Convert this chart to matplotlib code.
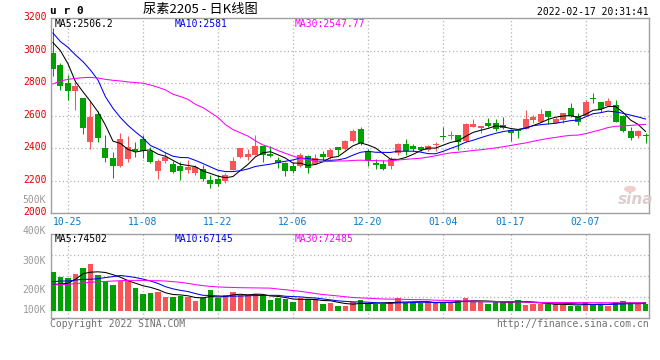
import numpy as np
import pandas as pd
import matplotlib
matplotlib.use("Agg")
import matplotlib.pyplot as plt
from matplotlib.transforms import ScaledTranslation

# ---------------- data ----------------
tick_labels = ['10-25', '11-08', '11-22', '12-06', '12-20', '01-04', '01-17', '02-07']
tick_index = [2, 12, 22, 32, 42, 52, 61, 71]

opens = [2984, 2912, 2802, 2754, 2707, 2441, 2611, 2402, 2340, 2293,
         2334, 2398, 2457, 2383, 2262, 2320, 2305, 2293, 2264, 2250,
         2273, 2205, 2211, 2199, 2266, 2346, 2346, 2361, 2414, 2363,
         2328, 2308, 2293, 2291, 2351, 2303, 2365, 2348, 2408, 2396,
         2445, 2519, 2381, 2312, 2303, 2291, 2369, 2426, 2414, 2410,
         2389, 2420, 2478, 2474, 2482, 2447, 2531, 2525, 2556, 2553,
         2543, 2512, 2512, 2517, 2574, 2564, 2629, 2558, 2574, 2648,
         2601, 2597, 2707, 2685, 2662, 2666, 2597, 2506, 2476, 2480]
highs = [3140, 2922, 2851, 2810, 2712, 2691, 2629, 2480, 2377, 2492,
         2474, 2439, 2482, 2408, 2334, 2377, 2324, 2318, 2328, 2297,
         2297, 2236, 2238, 2246, 2346, 2402, 2396, 2482, 2416, 2414,
         2349, 2318, 2318, 2369, 2359, 2365, 2383, 2400, 2408, 2451,
         2521, 2531, 2394, 2332, 2328, 2349, 2431, 2457, 2426, 2414,
         2422, 2439, 2531, 2508, 2482, 2558, 2580, 2537, 2586, 2580,
         2592, 2517, 2517, 2635, 2603, 2642, 2629, 2595, 2617, 2677,
         2615, 2697, 2738, 2685, 2707, 2695, 2605, 2529, 2512, 2492]
lows = [2847, 2758, 2697, 2636, 2490, 2396, 2439, 2314, 2219, 2283,
        2318, 2349, 2342, 2312, 2213, 2312, 2250, 2205, 2250, 2236,
        2199, 2158, 2168, 2184, 2266, 2340, 2328, 2361, 2318, 2349,
        2277, 2232, 2250, 2287, 2250, 2301, 2322, 2332, 2359, 2389,
        2441, 2418, 2291, 2275, 2266, 2275, 2359, 2359, 2383, 2381,
        2383, 2383, 2451, 2455, 2389, 2441, 2529, 2492, 2529, 2506,
        2519, 2447, 2465, 2517, 2553, 2564, 2547, 2553, 2558, 2590,
        2543, 2597, 2677, 2625, 2662, 2564, 2502, 2451, 2461, 2435]
closes = [2888, 2785, 2754, 2783, 2527, 2592, 2465, 2342, 2293, 2457,
          2408, 2385, 2383, 2318, 2324, 2346, 2256, 2262, 2285, 2285,
          2213, 2180, 2180, 2236, 2322, 2402, 2365, 2414, 2359, 2353,
          2308, 2262, 2262, 2357, 2281, 2340, 2346, 2389, 2389, 2445,
          2508, 2435, 2324, 2297, 2275, 2334, 2426, 2383, 2394, 2389,
          2414, 2424, 2472, 2480, 2437, 2549, 2549, 2537, 2537, 2517,
          2525, 2492, 2508, 2580, 2592, 2611, 2595, 2578, 2617, 2601,
          2562, 2685, 2703, 2642, 2691, 2564, 2506, 2465, 2508, 2474]
volumes = [363000, 314000, 304000, 341000, 397000, 434000, 332000, 273000, 239000, 279000,
           276000, 211000, 155000, 165000, 173000, 130000, 130000, 136000, 124000, 93000,
           115000, 192000, 115000, 143000, 173000, 143000, 155000, 155000, 133000, 99000,
           122000, 106000, 84000, 115000, 106000, 106000, 62000, 74000, 43000, 48000,
           77000, 98000, 64000, 64000, 64000, 85000, 117000, 72000, 72000, 72000,
           83000, 71000, 83000, 71000, 102000, 115000, 91000, 78000, 63000, 83000,
           83000, 83000, 102000, 52000, 63000, 63000, 58000, 58000, 58000, 44000,
           47000, 80000, 61000, 66000, 44000, 83000, 91000, 75000, 62000, 62000]

# moving-average values before enough history exists
ma5_lead = [3050, 3000, 2920, 2810]
ma10_lead = [3109, 3056, 3021, 2974, 2933, 2881, 2820, 2717, 2646]
ma30_lead = [2795, 2814, 2824, 2830, 2834, 2836, 2832, 2824, 2818, 2814,
             2808, 2804, 2800, 2789, 2775, 2759, 2732, 2718, 2701, 2670,
             2650, 2620, 2590, 2545, 2515, 2495, 2475, 2445, 2420]
vma5_lead = [245000, 248000, 255000, 292000]
vma10_lead = [270000, 276000, 276000, 285000, 292000, 292000, 298000, 308000, 317000]
vma30_lead = [239000, 242000, 245000, 252000, 258000, 264000, 270000, 272000, 276000, 279000,
              282000, 282000, 282000, 279000, 279000, 276000, 270000, 264000, 254000, 242000,
              233000, 226000, 221000, 218000, 216000, 214000, 213000, 212000, 211000]

price_head = ['MA5:2506.2', 'MA10:2581', 'MA30:2547.77']
vol_head = ['MA5:74502', 'MA10:67145', 'MA30:72485']


def moving(series, n, lead):
    s = pd.Series(series, dtype=float).rolling(n).mean().to_numpy()
    s[:len(lead)] = lead
    return s


ma5 = moving(closes, 5, ma5_lead)
ma10 = moving(closes, 10, ma10_lead)
ma30 = moving(closes, 30, ma30_lead)
vma5 = moving(volumes, 5, vma5_lead)
vma10 = moving(volumes, 10, vma10_lead)
vma30 = moving(volumes, 30, vma30_lead)

# ---------------- figure ----------------
W, H = 660, 360
fig = plt.figure(figsize=(W / 100, H / 100), dpi=100)
fig.patch.set_facecolor('white')

MONO = ['DejaVu Sans Mono', 'Noto Sans CJK SC']
RED = '#f85656'
GREEN = '#00a000'
FRAME = '#a0a0a0'
GRID = '#b4b4b4'


def box(l, t, r, b):
    return [l / W, 1 - b / H, (r - l) / W, (b - t) / H]


def fx(x):
    return x / W


def fy(y):
    return 1 - y / H


ax = fig.add_axes(box(50.7, 18.2, 649.3, 213.3))
axv = fig.add_axes(box(50.7, 234.3, 649.3, 318.3))

n = len(closes)
x = np.arange(n)
up = np.array(closes) >= np.array(opens)
colors = [RED if u else GREEN for u in up]

for a in (ax, axv):
    a.set_xlim(-0.3, 79.5)
    for s in a.spines.values():
        s.set_color(FRAME)
        s.set_linewidth(1.0)
    a.set_xticks(tick_index)
    a.tick_params(length=0)
    a.grid(True, color=GRID, linestyle=(0, (1, 2)), linewidth=0.9)
    a.set_axisbelow(True)

# price panel
ax.set_ylim(2000, 3200)
ax.set_yticks([2000, 2200, 2400, 2600, 2800, 3000, 3200])
ax.set_yticklabels(['2000', '2200', '2400', '2600', '2800', '3000', '3200'],
                   color='#e00000', family=MONO, fontsize=7)
ax.tick_params(axis='y', pad=3)
for lab in ax.get_yticklabels():
    lab.set_transform(lab.get_transform() + ScaledTranslation(0, 1.5 / 72, fig.dpi_scale_trans))
ax.set_xticklabels(tick_labels, color='#0a78c8', family=MONO, fontsize=7)
ax.tick_params(axis='x', pad=2.5)
ax.get_ygridlines()[0].set_visible(False)
ax.get_ygridlines()[-1].set_visible(False)

ax.vlines(x, lows, highs, colors=colors, linewidth=0.75, zorder=3)
body = np.maximum(np.abs(np.array(closes) - np.array(opens)), 5)
ax.bar(x, body, bottom=np.minimum(opens, closes), width=0.8, color=colors,
       linewidth=0, zorder=4)
ax.plot(x, ma5, color='black', lw=0.75, zorder=5)
ax.plot(x, ma10, color='#0000ee', lw=0.75, zorder=5)
ax.plot(x, ma30, color='#ff00ff', lw=0.75, zorder=5)

# volume panel (zero of the bars sits above the bottom frame, as in the reference)
axv.set_ylim(-70700, 710500)
y0, y1 = axv.get_ylim()
axv.set_yticks([y0 + f * (y1 - y0) for f in (0.25, 0.5, 0.75)])
axv.set_yticklabels([])
axv.set_xticklabels([])
axv.bar(x, volumes, width=0.75, color=colors, linewidth=0, zorder=3)
axv.plot(x, vma5, color='black', lw=0.75, zorder=5)
axv.plot(x, vma10, color='#0000ee', lw=0.75, zorder=5)
axv.plot(x, vma30, color='#ff00ff', lw=0.75, zorder=5)

# ---------------- texts ----------------
fig.text(fx(50), fy(11.5), 'u r 0', family=MONO, fontsize=8, fontweight='bold',
         va='center', ha='left', color='black')
fig.text(fx(200), fy(9.5), '尿素2205 - 日K线图', family=['Noto Sans CJK SC', 'DejaVu Sans'],
         fontsize=9.5, va='center', ha='center', color='black')
fig.text(fx(649), fy(12.3), '2022-02-17 20:31:41', family=MONO, fontsize=7,
         va='center', ha='right', color='black')

head_x = [55, 175, 295]
head_c = ['black', '#0000ee', '#ff00ff']
for hx, t, c in zip(head_x, price_head, head_c):
    fig.text(fx(hx), fy(24), t, family=MONO, fontsize=7, color=c, va='center', ha='left')
for hx, t, c in zip(head_x, vol_head, head_c):
    fig.text(fx(hx), fy(239), t, family=MONO, fontsize=7, color=c, va='center', ha='left')

for lab, yy in zip(['500K', '400K', '300K', '200K', '100K'], [200.3, 230.7, 261, 290, 310]):
    fig.text(fx(46), fy(yy), lab, family=MONO, fontsize=7, color='#9a9a9a',
             va='center', ha='right')

fig.text(fx(50), fy(324), 'Copyright 2022 SINA.COM', family=MONO, fontsize=7,
         color='#707070', va='center', ha='left')
fig.text(fx(649), fy(324), 'http://finance.sina.com.cn', family=MONO, fontsize=7,
         color='#707070', va='center', ha='right')

# sina watermark
fig.text(fx(636), fy(199), 'sina', family='DejaVu Sans', fontsize=11, fontweight='bold',
         style='italic', color='#d9c9c9', va='center', ha='center', alpha=0.9)
fig.patches.append(plt.Circle((fx(630), fy(189)), 0.009, transform=fig.transFigure,
                              facecolor='#f0c0c0', edgecolor='none', alpha=0.8))

fig.savefig('out.png', dpi=100, facecolor='white')
